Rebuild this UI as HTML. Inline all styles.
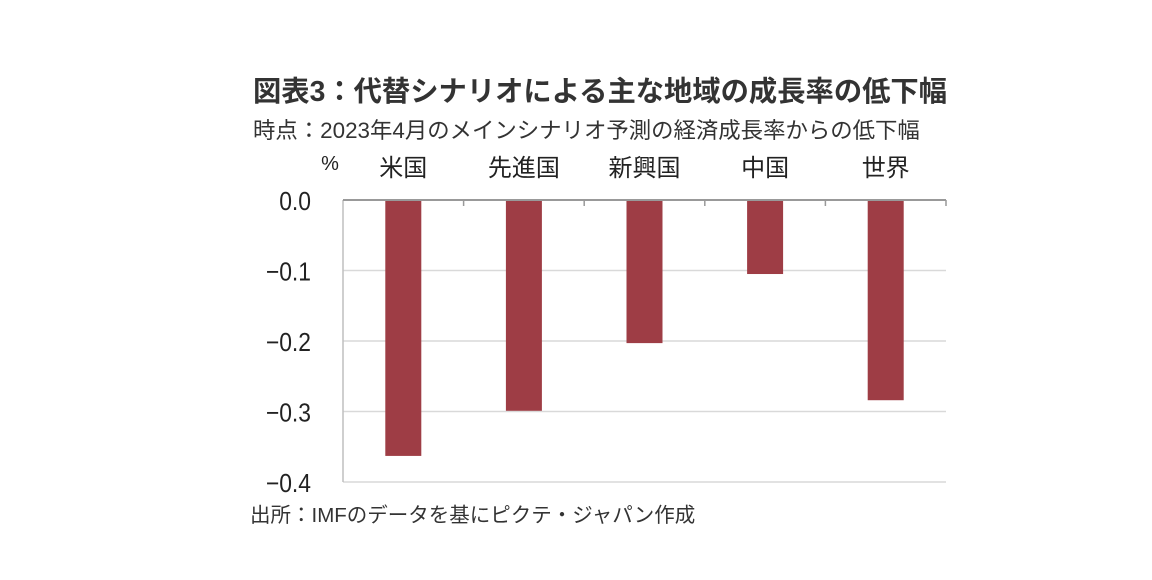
<!DOCTYPE html>
<html><head><meta charset="utf-8"><style>
body{margin:0;background:#fff;width:1152px;height:580px;overflow:hidden;font-family:"Liberation Sans","Noto Sans CJK JP",sans-serif;color:#222}
.t{position:absolute;white-space:nowrap}
</style></head><body>
<div class="t" style="left:253px;top:69px;font-size:28.3px;font-weight:bold;color:#333">図表3：代替シナリオによる主な地域の成長率の低下幅</div>
<div class="t" style="left:253px;top:113px;font-size:22.4px;color:#333">時点：2023年4月のメインシナリオ予測の経済成長率からの低下幅</div>
<div class="t" style="left:250px;top:498px;font-size:20.5px;color:#333">出所：IMFのデータを基にピクテ・ジャパン作成</div>
<svg id="c" width="1152" height="580" style="position:absolute;left:0;top:0"></svg>
<script>
const categories=["米国","先進国","新興国","中国","世界"];
const values=[-0.363,-0.299,-0.203,-0.105,-0.284];
const ticks=[0,-0.1,-0.2,-0.3,-0.4];
const tickLabels=["0.0","−0.1","−0.2","−0.3","−0.4"];
const svg=document.getElementById('c');
const NS="http://www.w3.org/2000/svg";
const L=343,R=946,T=200,B=482;
const y=v=>T+(0-v)/0.4*(B-T);
const band=(R-L)/categories.length;
const x=i=>L+band*(i+0.5);
function mk(tag,a){const e=document.createElementNS(NS,tag);for(const k in a)e.setAttribute(k,a[k]);svg.appendChild(e);return e;}
ticks.forEach((t,i)=>{
 if(i>0){const g=mk('line',{x1:L,x2:R,y1:y(t),y2:y(t),stroke:'#d9d9d9','stroke-width':1.5});
 
 }
 const tx=mk('text',{x:L-32,y:y(t)+10,'text-anchor':'end','font-size':26,fill:'#222','font-family':'Liberation Sans, sans-serif',transform:'translate('+(L-32)+',0) scale(0.88,1) translate('+(-(L-32))+',0)'});
 tx.textContent=tickLabels[i];
 
 
});
const ax=mk('line',{x1:L,x2:L,y1:T,y2:B,stroke:'#bfbfbf','stroke-width':1.5});


values.forEach((v,i)=>{
 const r=mk('rect',{x:x(i)-18,y:T,width:36,height:y(v)-T,fill:'#9e3d45'});
 
 
 const lb=mk('text',{x:x(i),y:176,'text-anchor':'middle','font-size':24,fill:'#222'});
 lb.textContent=categories[i];
 
 
});
const xa=mk('line',{x1:L,x2:R,y1:T,y2:T,stroke:'#999','stroke-width':2});


for(let i=1;i<=categories.length;i++){
 const tk=mk('line',{x1:L+band*i,x2:L+band*i,y1:T,y2:T+6,stroke:'#999','stroke-width':1.5});
 
 
}
const pc=mk('text',{x:330,y:170,'text-anchor':'middle','font-size':20,fill:'#222'});
pc.textContent='%';


</script>
</body></html>
